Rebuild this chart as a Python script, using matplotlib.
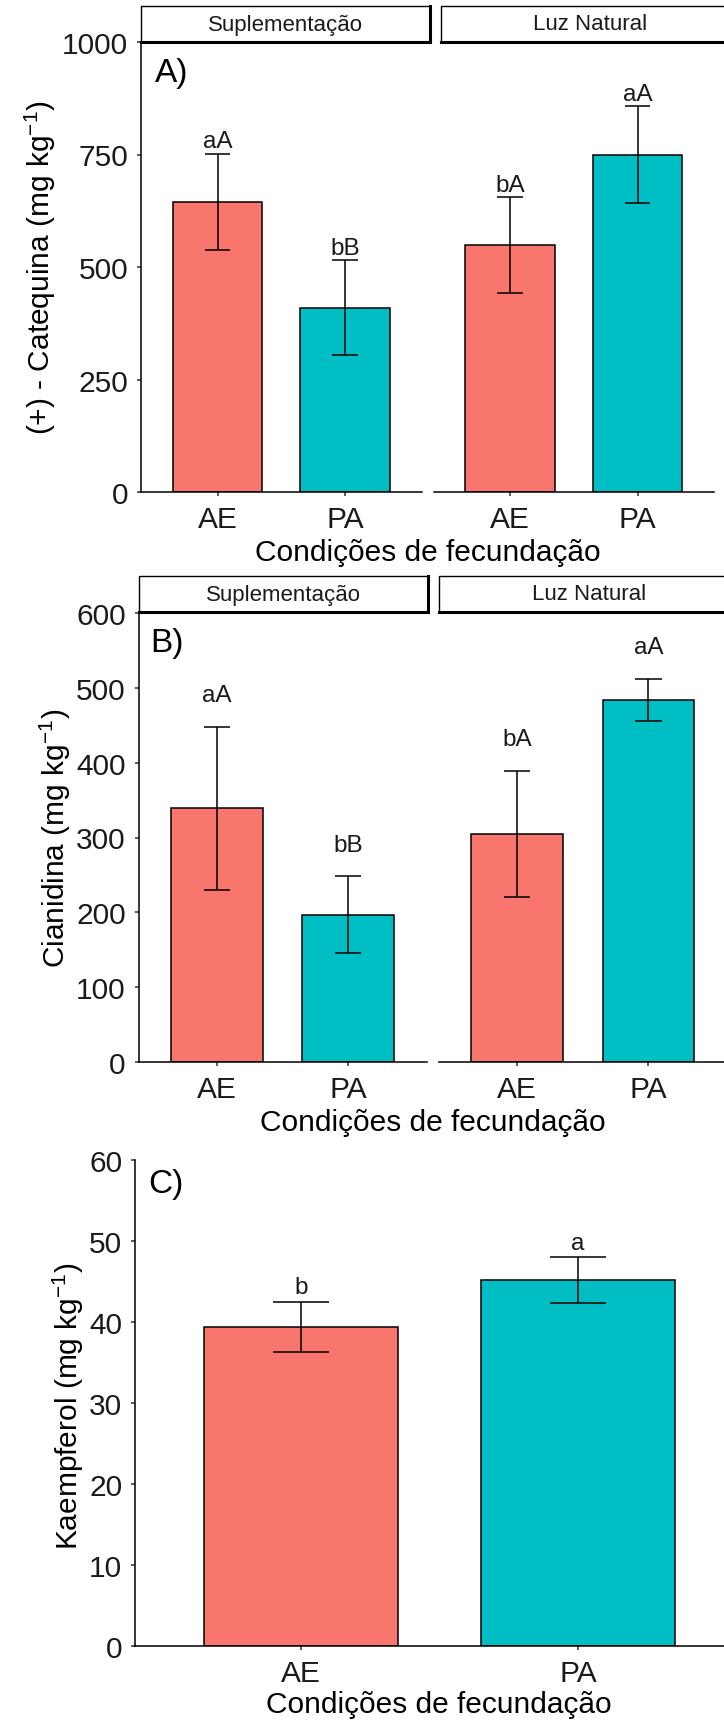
import matplotlib
matplotlib.use("Agg")
import matplotlib.pyplot as plt
from matplotlib.patches import Rectangle
from matplotlib.lines import Line2D

plt.rcParams['font.family'] = ['Liberation Sans', 'DejaVu Sans']
plt.rcParams['mathtext.default'] = 'regular'

# ---------------- data ----------------
categories = ['AE', 'PA']
facets = ['Suplementação', 'Luz Natural']
bar_colors = ['#F8766D', '#00BFC4']

# A) (+)-Catequina
catequina_sup = [645, 410]
catequina_sup_sd = [107, 106]
catequina_sup_letters = ['aA', 'bB']
catequina_nat = [549, 750]
catequina_nat_sd = [107, 107]
catequina_nat_letters = ['bA', 'aA']
catequina_ticks = [0, 250, 500, 750, 1000]

# B) Cianidina
cianidina_sup = [339, 197]
cianidina_sup_sd = [109, 51]
cianidina_sup_letters = ['aA', 'bB']
cianidina_nat = [305, 484]
cianidina_nat_sd = [84, 28]
cianidina_nat_letters = ['bA', 'aA']
cianidina_ticks = [0, 100, 200, 300, 400, 500, 600]

# C) Kaempferol
kaempferol = [39.4, 45.2]
kaempferol_sd = [3.1, 2.8]
kaempferol_letters = ['b', 'a']
kaempferol_ticks = [0, 10, 20, 30, 40, 50, 60]

xlabel = 'Condições de fecundação'

# ---------------- layout helpers ----------------
W, H = 724, 1724
fig = plt.figure(figsize=(W / 100, H / 100), dpi=100)


def fx(x):
    return x / W


def fy(y):
    return 1 - y / H


def add_ax(x0, y0, x1, y1):
    return fig.add_axes([fx(x0), fy(y1), (x1 - x0) / W, (y1 - y0) / H])


TICK_FS = 21.5
TITLE_FS = 21.5
LETTER_FS = 17.5
STRIP_FS = 16
TAG_FS = 24
LW = 1.1


def draw_panel(ax, means, sds, letters, ticks, show_y, letter_off_pt):
    xs = [1, 2]
    ax.bar(xs, means, width=0.7, color=bar_colors, edgecolor='black',
           linewidth=LW, zorder=2)
    lo = [m - s for m, s in zip(means, sds)]
    hi = [m + s for m, s in zip(means, sds)]
    ax.vlines(xs, lo, hi, color='black', linewidth=LW, zorder=3)
    ax.hlines(hi, [x - 0.1 for x in xs], [x + 0.1 for x in xs],
              color='black', linewidth=LW, zorder=3)
    ax.hlines(lo, [x - 0.1 for x in xs], [x + 0.1 for x in xs],
              color='black', linewidth=LW, zorder=3)
    for x, h, t in zip(xs, hi, letters):
        ax.annotate(t, (x, h), xytext=(0, letter_off_pt),
                    textcoords='offset points', ha='center', va='baseline',
                    fontsize=LETTER_FS, color='#1a1a1a')
    ax.set_xlim(0.4, 2.6)
    ax.set_ylim(ticks[0], ticks[-1])
    ax.set_xticks(xs)
    ax.set_xticklabels(categories)
    ax.set_yticks(ticks)
    ax.set_yticklabels([str(t) for t in ticks])
    for s in ['top', 'right']:
        ax.spines[s].set_visible(False)
    ax.spines['bottom'].set_linewidth(LW)
    ax.spines['left'].set_linewidth(LW)
    ax.tick_params(axis='both', length=2.6, width=LW, pad=6.6,
                   labelsize=TICK_FS, color='#333333', labelcolor='#1a1a1a')
    if not show_y:
        ax.spines['left'].set_visible(False)
        ax.tick_params(axis='y', left=False, labelleft=False)
    ax.patch.set_alpha(0)


def draw_strip(x0, y0, x1, y1, text):
    fig.add_artist(Rectangle((fx(x0), fy(y1)), (x1 - x0) / W, (y1 - y0) / H,
                             facecolor='white', edgecolor='black',
                             linewidth=1.0))
    fig.add_artist(Line2D([fx(x0), fx(x1)], [fy(y1), fy(y1)],
                          color='black', linewidth=2.2))
    fig.add_artist(Line2D([fx(x1), fx(x1)], [fy(y0), fy(y1)],
                          color='black', linewidth=2.2))
    fig.text(fx((x0 + x1) / 2), fy((y0 + y1) / 2), text, ha='center',
             va='center', fontsize=STRIP_FS, color='#1a1a1a')


def ylab(x_base, y_center, text):
    fig.text(fx(x_base), fy(y_center), text, rotation=90,
             rotation_mode='anchor', ha='center', va='baseline',
             fontsize=TITLE_FS, color='black')


def xlab(x_center, y_base, text):
    fig.text(fx(x_center), fy(y_base), text, ha='center', va='baseline',
             fontsize=TITLE_FS, color='black')


def tag(x, y_base, text):
    fig.text(fx(x), fy(y_base), text, ha='left', va='baseline',
             fontsize=TAG_FS, color='black')


# ---------------- Panel A ----------------
axA1 = add_ax(141, 43, 421.5, 493)
axA2 = add_ax(433.5, 43, 714, 493)
draw_panel(axA1, catequina_sup, catequina_sup_sd, catequina_sup_letters,
           catequina_ticks, True, 4.5)
draw_panel(axA2, catequina_nat, catequina_nat_sd, catequina_nat_letters,
           catequina_ticks, False, 4.5)
draw_strip(141, 7, 430, 43, facets[0])
draw_strip(441, 7, 740, 43, facets[1])
ylab(50, 268, '(+) - Catequina (mg kg$^{-1}$)')
xlab(428, 561, xlabel)
tag(155, 82, 'A)')

# ---------------- Panel B ----------------
axB1 = add_ax(138.5, 614, 427, 1063)
axB2 = add_ax(438.6, 614, 727.1, 1063)
draw_panel(axB1, cianidina_sup, cianidina_sup_sd, cianidina_sup_letters,
           cianidina_ticks, True, 18.5)
draw_panel(axB2, cianidina_nat, cianidina_nat_sd, cianidina_nat_letters,
           cianidina_ticks, False, 18.5)
draw_strip(138.5, 577, 427.5, 613, facets[0])
draw_strip(439, 577, 740, 613, facets[1])
ylab(65, 838, 'Cianidina (mg kg$^{-1}$)')
xlab(433, 1131, xlabel)
tag(150, 652, 'B)')

# ---------------- Panel C ----------------
axC = add_ax(135, 1161, 744, 1647)
draw_panel(axC, kaempferol, kaempferol_sd, kaempferol_letters,
           kaempferol_ticks, True, 6)
ylab(78.5, 1406, 'Kaempferol (mg kg$^{-1}$)')
xlab(438.6, 1713, xlabel)
tag(148, 1193, 'C)')

fig.savefig('out.png', dpi=100, facecolor='white')
